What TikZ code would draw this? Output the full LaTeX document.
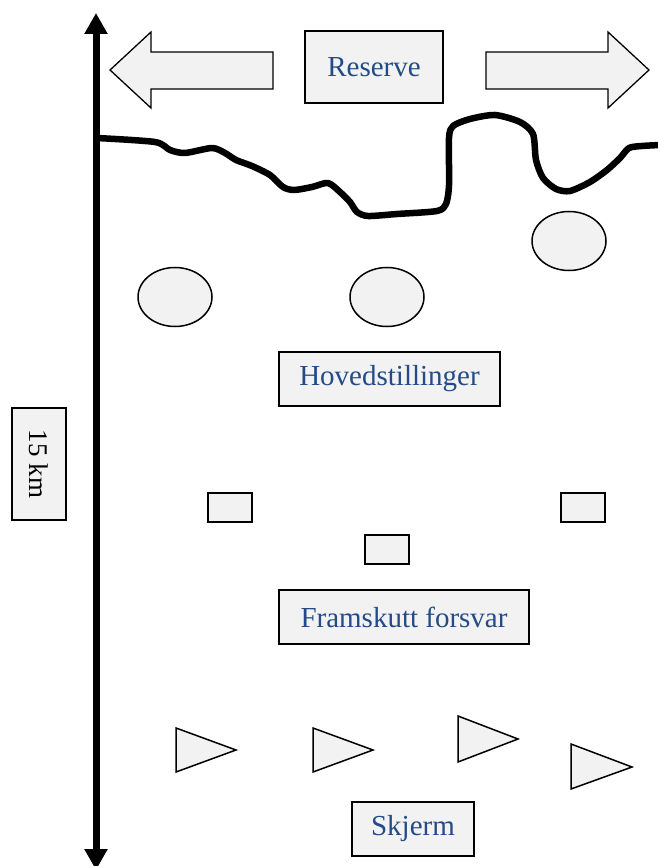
\documentclass[tikz,border=0pt]{standalone}
\usepackage{fontspec}
\setmainfont{Liberation Serif}
\usetikzlibrary{arrows.meta,shapes.geometric}
\definecolor{boxfill}{RGB}{242,242,242}
\definecolor{labelblue}{RGB}{35,75,135}
\tikzset{
  label box/.style={draw=black, line width=1.8pt, fill=boxfill, inner sep=0pt,
    text=labelblue, font=\fontsize{29}{32}\selectfont},
  unit box/.style={draw=black, line width=2pt, fill=boxfill, inner sep=0pt,
    minimum width=44pt, minimum height=29pt},
  unit oval/.style={draw=black, line width=1.5pt, fill=boxfill, ellipse, inner sep=0pt,
    minimum width=74pt, minimum height=59pt},
  big arrow/.style={draw=black, line width=1.3pt, fill=boxfill, line join=miter},
  flag/.style={draw=black, line width=1.5pt, fill=boxfill, line join=miter},
  front line/.style={line width=6.5pt, line cap=round, line join=round},
}
\begin{document}
\begin{tikzpicture}[x=1pt, y=-1pt]
\useasboundingbox (0,0) rectangle (657,866);

% depth axis
\coordinate (axtop) at (96,13);
\coordinate (axbot) at (96,870);
\draw[line width=7pt, {Triangle[length=21pt,width=22pt]}-{Triangle[length=21pt,width=22pt]}] (axtop) -- (axbot);
\node[label box, text=black, rotate=-90, minimum width=112pt, minimum height=54pt,
      font=\fontsize{27}{30}\selectfont] (depth) at (39,464) {15 km};

% reserve and lateral movement arrows
\node[label box, minimum width=138pt, minimum height=72pt] (reserve) at (374,67) {Reserve};
\draw[big arrow] (273,52) -- (151,52) -- (151,32) -- (110,70) -- (151,108) -- (151,89) -- (273,89) -- cycle;
\draw[big arrow] (486,52) -- (608,52) -- (608,32) -- (649,70) -- (608,108) -- (608,89) -- (486,89) -- cycle;

% front line
\draw[front line] plot[smooth, tension=0.45] coordinates {
  (97,138) (155,142) (170,150) (185,153) (212,148) (225,153) (236,160)
  (252,166) (270,175) (283,187) (294,190) (312,187) (328,183) (340,192)
  (350,202) (357,212) (368,216) (397,214) (437,211) (446,204) (449,185)
  (449,138) (453,126) (470,119) (495,115) (520,122) (533,134) (536,160)
  (543,178) (556,189) (570,191) (590,182) (607,170) (620,158) (629,148)
  (642,146) (660,145)};

% main positions
\node[unit oval] (ov1) at (175,297) {};
\node[unit oval] (ov2) at (387,297) {};
\node[unit oval] (ov3) at (569,241) {};
\node[label box, minimum width=221pt, minimum height=54pt] (hoved) at (389.5,379) {Hovedstillinger};

% forward defence
\node[unit box] (fb1) at (229.5,507) {};
\node[unit box] (fb2) at (582.5,507) {};
\node[unit box] (fb3) at (386.5,549) {};
\node[label box, minimum width=250pt, minimum height=54pt] (framskutt) at (404,617) {Framskutt forsvar};

% screen
\draw[flag] (176,728) -- (236,750) -- (176,772) -- cycle;
\draw[flag] (313,728) -- (373,750) -- (313,772) -- cycle;
\draw[flag] (458,716) -- (518,739) -- (458,762) -- cycle;
\draw[flag] (571,744) -- (632,767) -- (571,789) -- cycle;
\node[label box, minimum width=122pt, minimum height=54pt] (skjerm) at (413,829) {Skjerm};
\end{tikzpicture}
\end{document}
